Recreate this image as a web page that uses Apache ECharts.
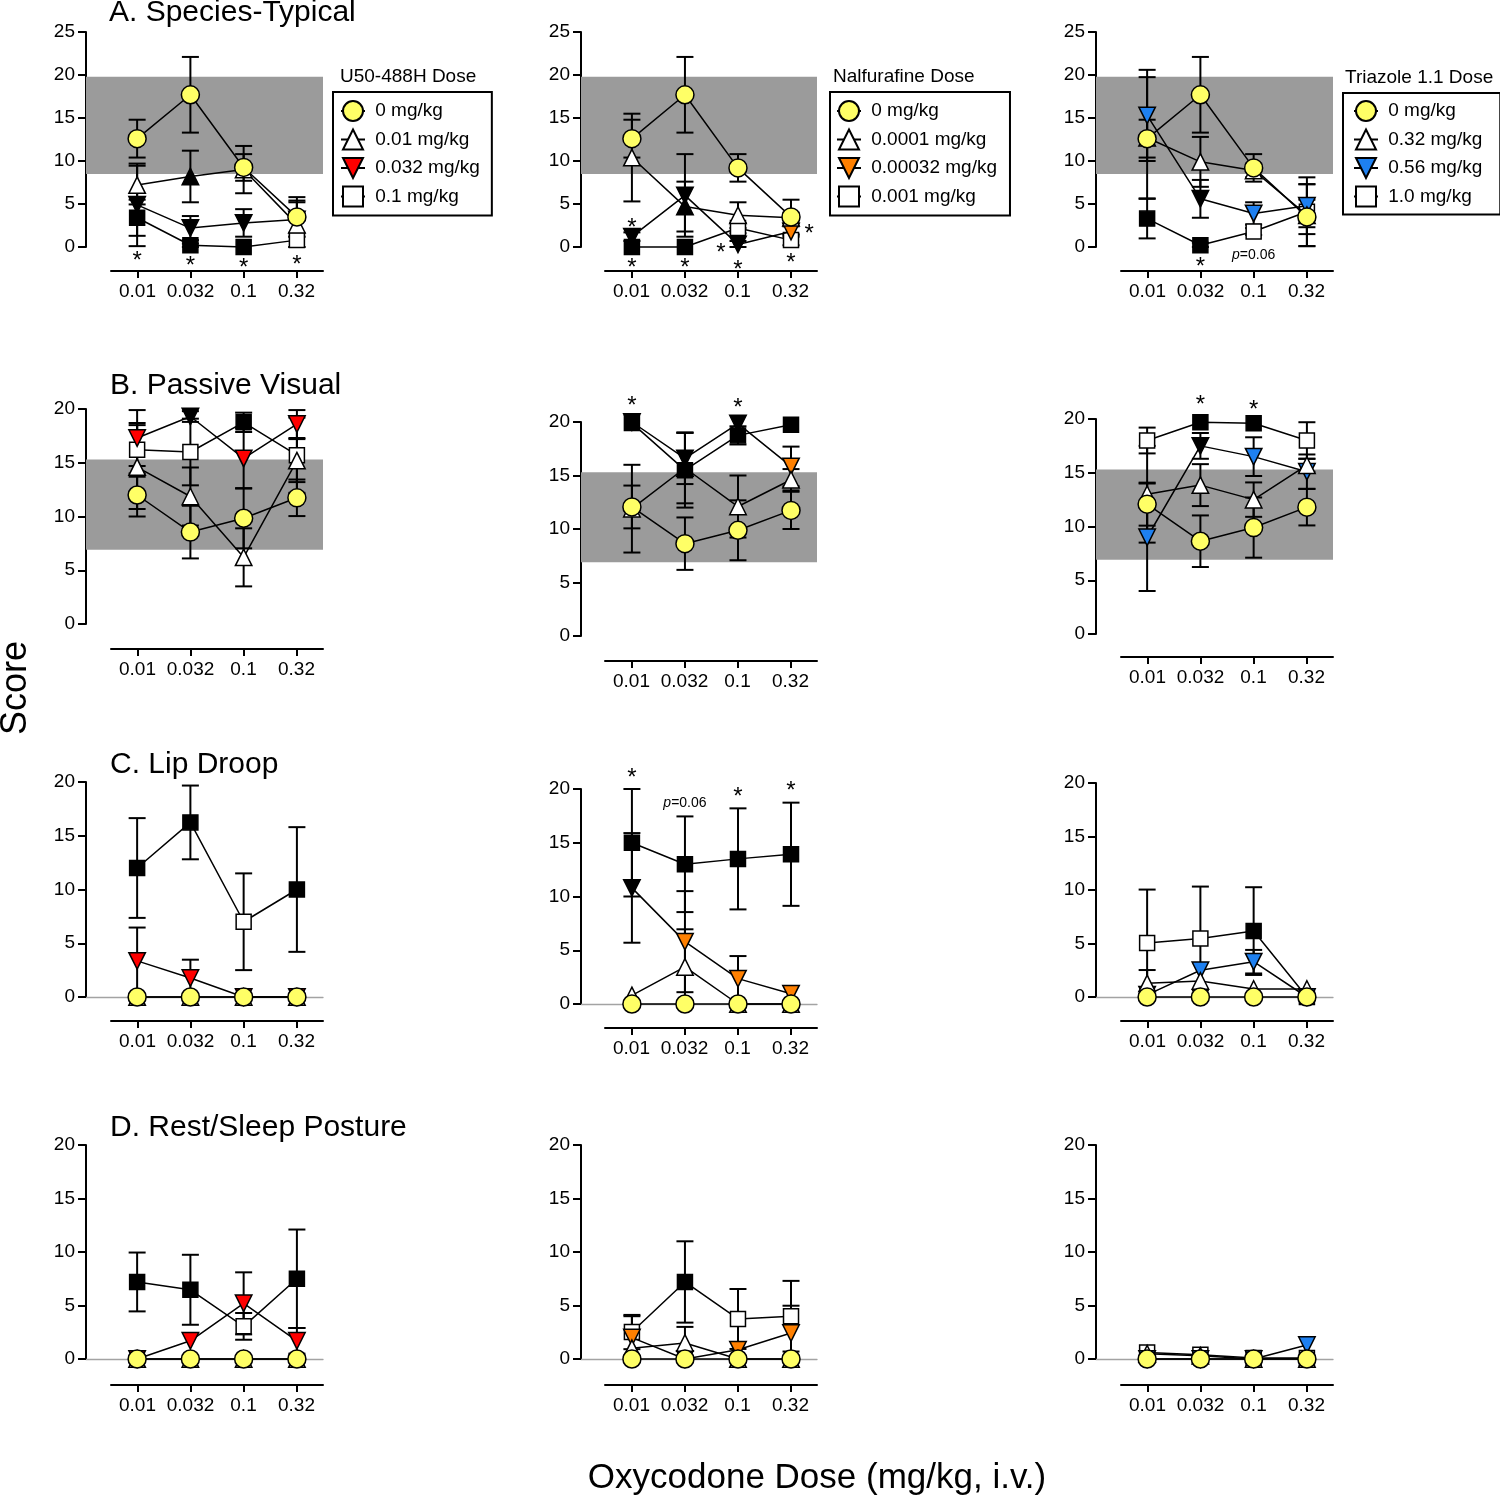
<!DOCTYPE html>
<html><head><meta charset="utf-8">
<script src="https://cdn.jsdelivr.net/npm/echarts@6/dist/echarts.min.js"></script>
<style>html,body{margin:0;padding:0;background:#fff}#c{width:1500px;height:1498px}</style>
</head><body><div id="c"></div>
<script>
// ---------------- data ----------------
const categories = ['0.01', '0.032', '0.1', '0.32'];
const u50Doses = ['0 mg/kg', '0.01 mg/kg', '0.032 mg/kg', '0.1 mg/kg'];
const nalDoses = ['0 mg/kg', '0.0001 mg/kg', '0.00032 mg/kg', '0.001 mg/kg'];
const triDoses = ['0 mg/kg', '0.32 mg/kg', '0.56 mg/kg', '1.0 mg/kg'];
const legendTitles = ['U50-488H Dose', 'Nalfurafine Dose', 'Triazole 1.1 Dose'];
const rowTitles = ['A. Species-Typical', 'B. Passive Visual', 'C. Lip Droop', 'D. Rest/Sleep Posture'];
const rowMax = [25, 20, 20, 20];
const bandA = [8.5, 19.8];
const bandB = [6.9, 15.3];

// series order in each panel: [vehicle circle, low dose up-triangle, mid dose down-triangle, high dose square]
// A. Species-Typical
const A1_mean = [[12.6, 17.7, 9.25, 3.5], [7.2, 8.2, 9.0, 2.6], [4.9, 2.2, 2.8, 3.2], [3.4, 0.2, 0.0, 0.8]];
const A1_sem  = [[2.2, 4.4, 1.55, 2.3], [2.25, 3.0, 2.75, 2.8], [4.8, 1.4, 1.6, 2.0], [2.1, 0.2, 0, 0.8]];
const A1_sig  = [[0,0,0,0], [0,1,0,0], [1,1,1,0], [1,1,1,0]];
const A1_notes = [[0, -1.13, '*'], [1, -1.7, '*'], [2, -1.9, '*'], [3, -1.6, '*']];

const A2_mean = [[12.6, 17.7, 9.2, 3.5], [10.4, 4.7, 3.7, 3.4], [1.2, 6.0, 0.3, 1.8], [0.0, 0.0, 2.2, 0.8]];
const A2_sem  = [[2.2, 4.4, 1.6, 2.0], [5.1, 2.9, 1.5, 0.6], [0.5, 4.8, 0.4, 0.6], [0, 0, 0.6, 0.6]];
const A2_sig  = [[0,0,0,0], [0,1,0,0], [1,1,1,0], [1,1,0,0]];
const A2_notes = [[0, 2.8, '*'], [0, -1.9, '*'], [1, -1.9, '*'], [1.68, -0.15, '*'], [2, -2.1, '*'], [3.34, 2.06, '*'], [3, -1.3, '*']];

const A3_mean = [[12.6, 17.7, 9.2, 3.5], [12.7, 9.9, 8.9, 3.7], [15.3, 5.6, 3.9, 4.8], [3.3, 0.2, 1.8, 4.1]];
const A3_sem  = [[2.2, 4.4, 1.6, 2.0], [7.05, 2.9, 0.8, 3.6], [5.3, 2.2, 1.3, 2.5], [2.3, 0.3, 0.4, 4.0]];
const A3_sig  = [[0,0,0,0], [0,0,0,0], [0,1,0,0], [1,1,0,0]];
const A3_notes = [[1, -1.8, '*'], [2, -0.93, 'p=0.06']];

// B. Passive Visual
const B1_mean = [[12.0, 8.55, 9.84, 11.74], [14.6, 11.86, 6.2, 15.2], [17.3, 19.3, 15.4, 18.6], [16.2, 16.0, 18.76, 15.7]];
const B1_sem  = [[2.0, 2.45, 2.8, 1.7], [3.9, 2.7, 2.7, 2.0], [2.6, 0.5, 2.8, 1.3], [2.5, 3.1, 0.9, 3.5]];
const B1_sig  = [[0,0,0,0], [0,0,0,0], [0,1,0,0], [0,0,1,0]];
const B1_notes = [];

const B2_mean = [[12.06, 8.63, 9.88, 11.74], [11.9, 15.7, 12.1, 14.6], [20.0, 16.6, 19.85, 15.85], [19.9, 15.5, 18.75, 19.75]];
const B2_sem  = [[2.0, 2.45, 2.8, 1.74], [4.1, 3.3, 2.9, 1.0], [0, 2.4, 0, 1.85], [0, 3.5, 0.85, 0]];
const B2_sig  = [[0,0,0,0], [0,1,0,0], [1,1,1,0], [1,1,1,1]];
const B2_notes = [[0, 21.9, '*'], [2, 21.7, '*']];

const B3_mean = [[12.08, 8.63, 9.9, 11.8], [13.0, 13.85, 12.5, 15.7], [9.0, 17.5, 16.5, 15.1], [18.0, 19.7, 19.6, 18.0]];
const B3_sem  = [[2.0, 2.4, 2.8, 1.7], [4.5, 1.95, 1.6, 0.6], [5.0, 1.2, 1.8, 1.6], [1.2, 0, 0, 1.7]];
const B3_sig  = [[0,0,0,0], [0,0,0,0], [0,1,0,0], [0,1,1,0]];
const B3_notes = [[1, 21.7, '*'], [2, 21.3, '*']];

// C. Lip Droop
const C1_mean = [[0, 0, 0, 0], [0, 0, 0, 0], [3.36, 1.77, 0, 0], [12.0, 16.24, 7.0, 10.0]];
const C1_sem  = [[0, 0, 0, 0], [0, 0, 0, 0], [3.1, 1.7, 0, 0], [4.64, 3.43, 4.5, 5.8]];
const C1_sig  = [[0,0,0,0], [0,0,0,0], [0,0,0,0], [1,1,0,1]];
const C1_notes = [];

const C2_mean = [[0, 0, 0, 0], [0.8, 3.45, 0, 0], [10.8, 5.8, 2.36, 0.96], [15.0, 13.0, 13.5, 13.93]];
const C2_sem  = [[0, 0, 0, 0], [0, 3.5, 0, 0], [5.1, 4.7, 2.1, 0], [5.0, 4.45, 4.7, 4.8]];
const C2_sig  = [[0,0,0,0], [0,0,0,0], [1,0,0,0], [1,1,1,1]];
const C2_notes = [[0, 21.5, '*'], [1, 18.7, 'p=0.06'], [2, 19.7, '*'], [3, 20.2, '*']];

const C3_mean = [[0, 0, 0, 0], [1.28, 1.5, 0.75, 0.75], [0.2, 2.5, 3.3, 0], [5.04, 5.47, 6.16, 0]];
const C3_sem  = [[0, 0, 0, 0], [1.24, 0, 0, 0], [0, 0, 1.1, 0], [5.0, 4.85, 4.1, 0]];
const C3_sig  = [[0,0,0,0], [0,0,0,0], [0,0,0,0], [0,0,1,0]];
const C3_notes = [];

// D. Rest/Sleep Posture
const D1_mean = [[0, 0, 0, 0], [0, 0, 0, 0], [0, 1.7, 5.2, 1.7], [7.2, 6.47, 3.05, 7.5]];
const D1_sem  = [[0, 0, 0, 0], [0, 0, 0, 0], [0, 0, 2.9, 1.2], [2.75, 3.27, 1.25, 4.6]];
const D1_sig  = [[0,0,0,0], [0,0,0,0], [0,0,0,0], [1,1,0,1]];
const D1_notes = [];

const D2_mean = [[0, 0, 0, 0], [1.0, 1.5, 0, 0], [2.0, 0, 0.87, 2.43], [2.52, 7.2, 3.74, 4.0]];
const D2_sem  = [[0, 0, 0, 0], [0, 1.5, 0, 0], [2.0, 0, 0, 2.55], [1.6, 3.8, 2.8, 3.3]];
const D2_sig  = [[0,0,0,0], [0,0,0,0], [0,0,0,0], [0,1,0,0]];
const D2_notes = [];

const D3_mean = [[0, 0, 0, 0], [0.5, 0.3, 0, 0], [0, 0, 0, 1.3], [0.6, 0.4, 0.1, 0.1]];
const D3_sem  = [[0, 0, 0, 0], [0, 0, 0, 0], [0, 0, 0, 0], [0, 0, 0, 0]];
const D3_sig  = [[0,0,0,0], [0,0,0,0], [0,0,0,0], [0,0,0,0]];
const D3_notes = [];

// ---------------- layout & style ----------------
const FF = '"Liberation Sans", Arial, Helvetica, sans-serif';
const colAxisX = [86, 581, 1096];
const colRight = [323, 817, 1333];
const colCatStart = [111, 605, 1121];
const panelY = [
  [[32, 247, 271], [32, 247, 271], [32, 247, 271]],
  [[409, 624, 649], [422, 636, 661], [419, 634, 657]],
  [[782, 997, 1021], [789, 1004, 1028], [783, 997, 1021]],
  [[1145, 1359, 1385], [1145, 1359, 1385], [1145, 1359, 1385]]
];
const XMIN = -0.96, XMAX = 3.49;
const colNames = [u50Doses, nalDoses, triDoses];
const fills = [
  ['#ffff66', '#ffffff', '#ff0000', '#ffffff'],
  ['#ffff66', '#ffffff', '#ff8000', '#ffffff'],
  ['#ffff66', '#ffffff', '#1e80f0', '#ffffff']
];
const DOWN = 'path://M0,0L20,0L10,20Z';
const symbols = ['circle', 'triangle', DOWN, 'rect'];
const symSizes = [18, 16.5, 16.5, 15];
const panels = [
  [[A1_mean, A1_sem, A1_sig, A1_notes], [A2_mean, A2_sem, A2_sig, A2_notes], [A3_mean, A3_sem, A3_sig, A3_notes]],
  [[B1_mean, B1_sem, B1_sig, B1_notes], [B2_mean, B2_sem, B2_sig, B2_notes], [B3_mean, B3_sem, B3_sig, B3_notes]],
  [[C1_mean, C1_sem, C1_sig, C1_notes], [C2_mean, C2_sem, C2_sig, C2_notes], [C3_mean, C3_sem, C3_sig, C3_notes]],
  [[D1_mean, D1_sem, D1_sig, D1_notes], [D2_mean, D2_sem, D2_sig, D2_notes], [D3_mean, D3_sem, D3_sig, D3_notes]]
];
const bands = [bandA, bandB, null, null];

function errRender(params, api) {
  const x = api.value(0), m = api.value(1), e = api.value(2);
  const hi = api.coord([x, m + e]);
  const lo = api.coord([x, Math.max(0, m - e)]);
  const hw = 8.5;
  const st = () => ({ stroke: '#000', lineWidth: 2 });
  return { type: 'group', children: [
    { type: 'line', shape: { x1: hi[0], y1: hi[1], x2: lo[0], y2: lo[1] }, style: st() },
    { type: 'line', shape: { x1: hi[0] - hw, y1: hi[1], x2: hi[0] + hw, y2: hi[1] }, style: st() },
    { type: 'line', shape: { x1: lo[0] - hw, y1: lo[1], x2: lo[0] + hw, y2: lo[1] }, style: st() }
  ] };
}
function makeNoteRender(notes) {
  return function (params, api) {
    const n = notes[params.dataIndex];
    const p = api.coord([api.value(0), api.value(1)]);
    if (n[2] === '*') {
      return { type: 'text', x: p[0], y: p[1] + 5, style: {
        text: '*', fontSize: 24, fontFamily: FF, fill: '#000',
        align: 'center', verticalAlign: 'middle', textAlign: 'center', textVerticalAlign: 'middle' } };
    }
    return { type: 'text', x: p[0], y: p[1], style: {
      text: '{i|p}' + n[2].slice(1), fontSize: 14, fontFamily: FF, fill: '#000',
      align: 'center', verticalAlign: 'middle', textAlign: 'center', textVerticalAlign: 'middle',
      rich: { i: { fontStyle: 'italic', fontSize: 14, fontFamily: FF, fill: '#000' } } } };
  };
}

const grids = [], xAxes = [], yAxes = [], series = [];
for (let r = 0; r < 4; r++) {
  for (let c = 0; c < 3; c++) {
    const [top, zero, axisY] = panelY[r][c];
    const [mean, sem, sig, notes] = panels[r][c];
    const gi = grids.length;
    grids.push({ left: colAxisX[c], top: top, width: colRight[c] - colAxisX[c], height: zero - top, outerBoundsMode: 'none', containLabel: false });
    xAxes.push({ gridIndex: gi, type: 'value', min: XMIN, max: XMAX,
      axisLine: { show: r >= 2, onZero: false, lineStyle: { color: '#a3a3a3', width: 1.3 } },
      axisTick: { show: false }, axisLabel: { show: false }, splitLine: { show: false } });
    yAxes.push({ gridIndex: gi, type: 'value', min: 0, max: rowMax[r], interval: 5,
      axisLine: { show: true, onZero: false, lineStyle: { color: '#000', width: 2 } },
      axisTick: { show: true, length: 8, lineStyle: { color: '#000', width: 2 } },
      axisLabel: { color: '#000', fontSize: 19, fontFamily: FF, margin: 11 },
      splitLine: { show: false } });
    const ai = grids.length;
    grids.push({ left: colCatStart[c], top: top, width: colRight[c] - colCatStart[c], height: axisY - top, outerBoundsMode: 'none', containLabel: false });
    xAxes.push({ gridIndex: ai, type: 'category', data: categories, boundaryGap: true,
      axisLine: { show: true, onZero: false, lineStyle: { color: '#000', width: 2 } },
      axisTick: { show: true, alignWithLabel: true, interval: 0, length: 7, lineStyle: { color: '#000', width: 2 } },
      axisLabel: { color: '#000', fontSize: 19, fontFamily: FF, margin: 11, interval: 0 },
      splitLine: { show: false } });
    yAxes.push({ gridIndex: ai, type: 'value', show: false, min: 0, max: 1 });

    // error bars
    const eb = [];
    for (let k = 0; k < 4; k++) for (let i = 0; i < 4; i++) if (sem[k][i] > 0) eb.push([i, mean[k][i], sem[k][i]]);
    series.push({ type: 'custom', name: 'err' + gi, xAxisIndex: gi, yAxisIndex: gi, data: eb,
      encode: { x: 0, y: 1 }, renderItem: errRender, z: 2, silent: true, clip: false, animation: false });

    // lines & markers
    const order = [3, 2, 1, 0];
    order.forEach((k, idx) => {
      const s = {
        type: 'line', name: colNames[c][k], xAxisIndex: gi, yAxisIndex: gi,
        data: mean[k].map((v, i) => ({ value: [i, v], itemStyle: { color: sig[k][i] ? '#000' : fills[c][k] } })),
        symbol: symbols[k], symbolSize: symSizes[k], showSymbol: true, showAllSymbol: true,
        itemStyle: { color: fills[c][k], borderColor: '#000', borderWidth: 1.5, opacity: 1 },
        lineStyle: { color: '#000', width: 1.5 },
        clip: false, z: 3 + idx, silent: true, animation: false, emphasis: { disabled: true }
      };
      if (idx === 0 && bands[r]) {
        s.markArea = { silent: true, itemStyle: { color: '#9b9b9b', opacity: 1 },
          data: [[{ xAxis: XMIN, yAxis: bands[r][0] }, { xAxis: XMAX, yAxis: bands[r][1] }]] };
      }
      series.push(s);
    });

    if (notes.length) {
      series.push({ type: 'custom', name: 'note' + gi, xAxisIndex: gi, yAxisIndex: gi,
        data: notes.map(n => [n[0], n[1]]), encode: { x: 0, y: 1 },
        renderItem: makeNoteRender(notes), z: 10, silent: true, clip: false, animation: false });
    }
  }
}

const legendBoxes = [
  { left: 333, top: 92, padding: [8, 12, 8, 7] },
  { left: 830, top: 92, padding: [8, 13, 8, 6] },
  { left: 1343, top: 93, padding: [7, 18, 7, 10] }
];
const legends = legendBoxes.map((b, c) => ({
  orient: 'vertical', left: b.left, top: b.top, padding: b.padding,
  data: colNames[c], itemWidth: 24, itemHeight: 25, itemGap: 6.5,
  borderColor: '#000', borderWidth: 2, backgroundColor: '#fff',
  selectedMode: false, formatter: name => ' ' + name,
  textStyle: { fontSize: 19, color: '#000', fontFamily: FF }
}));

const txt = (text, x, y, size, extra) => Object.assign({
  type: 'text', x: x, y: y, silent: true, z: 20,
  style: { text: text, fontSize: size, fontFamily: FF, fill: '#000',
    align: 'left', verticalAlign: 'middle', textAlign: 'left', textVerticalAlign: 'middle' }
}, extra || {});

const graphics = [
  txt(rowTitles[0], 109, 13, 30),
  txt(rowTitles[1], 110, 386, 30),
  txt(rowTitles[2], 110, 765, 30),
  txt(rowTitles[3], 110, 1128, 30),
  txt(legendTitles[0], 340, 77, 19),
  txt(legendTitles[1], 833, 77, 19),
  txt(legendTitles[2], 1345, 78, 19),
  { type: 'text', x: 16, y: 688, rotation: Math.PI / 2, silent: true, z: 20,
    style: { text: 'Score', fontSize: 36, fontFamily: FF, fill: '#000',
      align: 'center', verticalAlign: 'middle', textAlign: 'center', textVerticalAlign: 'middle' } },
  { type: 'text', x: 817, y: 1478, silent: true, z: 20,
    style: { text: 'Oxycodone Dose (mg/kg, i.v.)', fontSize: 35, fontFamily: FF, fill: '#000',
      align: 'center', verticalAlign: 'middle', textAlign: 'center', textVerticalAlign: 'middle' } }
];

const chart = echarts.init(document.getElementById('c'), null, { renderer: 'canvas' });
chart.setOption({
  animation: false,
  backgroundColor: '#fff',
  textStyle: { fontFamily: FF },
  grid: grids, xAxis: xAxes, yAxis: yAxes,
  legend: legends,
  series: series,
  graphic: graphics
});
</script>
</body></html>
